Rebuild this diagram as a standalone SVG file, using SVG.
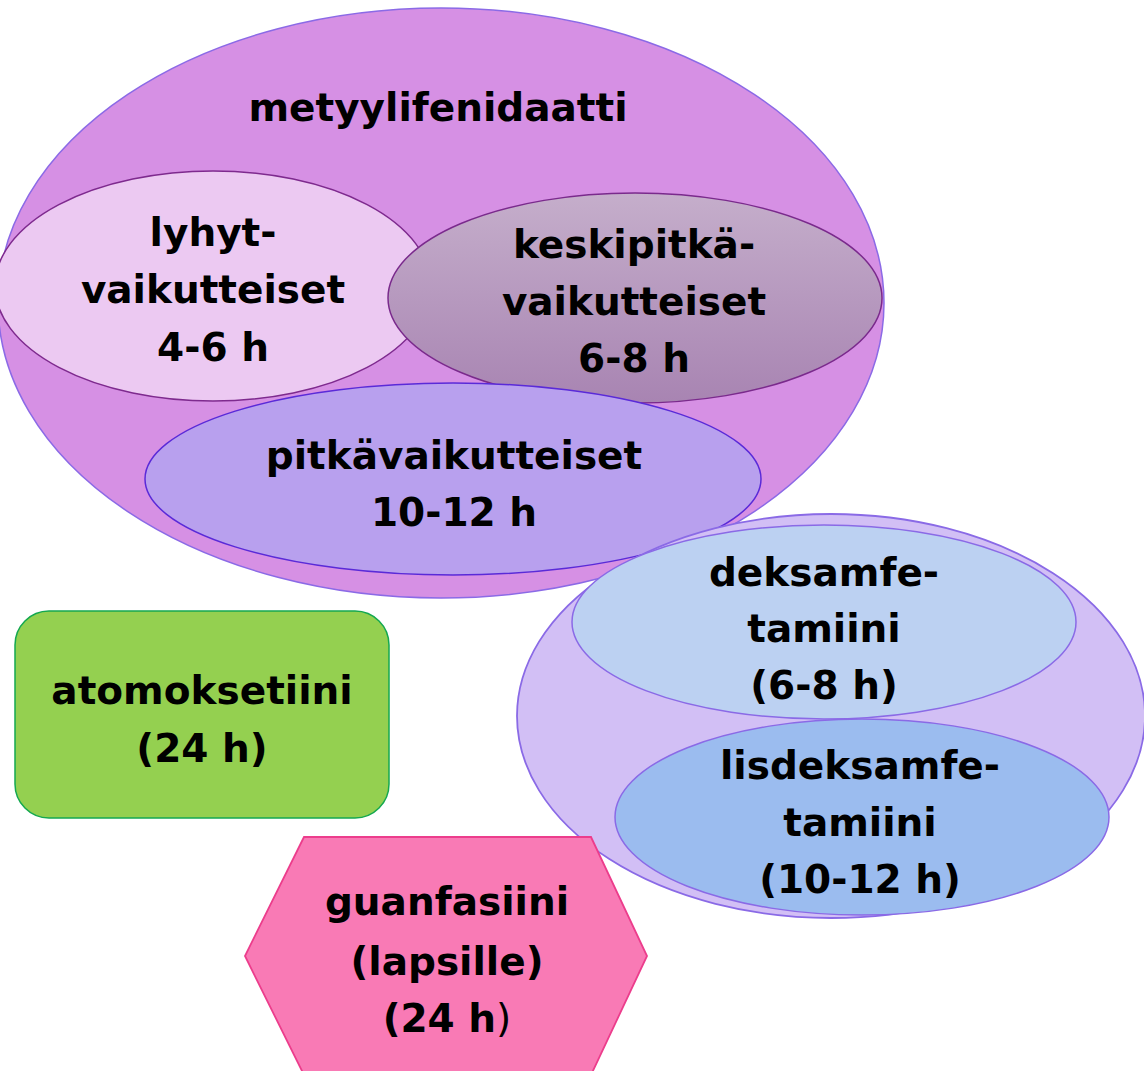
<svg xmlns="http://www.w3.org/2000/svg" width="1144" height="1071" viewBox="0 0 1144 1071">
<defs>
<linearGradient id="gKeski" x1="0" y1="0" x2="0" y2="1">
<stop offset="0" stop-color="#c5aecb"/>
<stop offset="1" stop-color="#a884b2"/>
</linearGradient>
<style>
text{font-family:"DejaVu Sans","Liberation Sans",sans-serif;font-weight:bold;font-size:39px;fill:#000;text-anchor:middle}
.thin{font-weight:normal}
</style>
</defs>
<rect width="1144" height="1071" fill="#fff"/>
<g id="connectors"/>
<g id="metyylifenidaatti">
<ellipse cx="441" cy="303" rx="443" ry="295" fill="#d690e4" stroke="#8b6ae6" stroke-width="1.5"/>
<text x="438" y="121">metyylifenidaatti</text>
</g>
<g id="lyhytvaikutteiset">
<ellipse cx="213" cy="286" rx="218" ry="115" fill="#ecc9f2" stroke="#7e2a8e" stroke-width="1.5"/>
<text x="213" y="246">lyhyt-</text>
<text x="213" y="303">vaikutteiset</text>
<text x="213" y="361">4-6 h</text>
</g>
<g id="keskipitkavaikutteiset">
<ellipse cx="635" cy="298" rx="247" ry="105" fill="url(#gKeski)" stroke="#7a2a8c" stroke-width="1.5"/>
<text x="634" y="258">keskipitkä-</text>
<text x="634" y="315">vaikutteiset</text>
<text x="634" y="372">6-8 h</text>
</g>
<g id="pitkavaikutteiset">
<ellipse cx="453" cy="479" rx="308" ry="96" fill="#b8a0ee" stroke="#5a2ad8" stroke-width="1.5"/>
<text x="454" y="469">pitkävaikutteiset</text>
<text x="454" y="526">10-12 h</text>
</g>
<g id="amfetamiinit">
<ellipse cx="831" cy="716" rx="314" ry="202" fill="#d2bff5" stroke="#8a6ae6" stroke-width="1.8"/>
</g>
<g id="deksamfetamiini">
<ellipse cx="824" cy="622" rx="252" ry="97" fill="#bcd1f2" stroke="#8a6ae6" stroke-width="1.5"/>
<text x="824" y="586">deksamfe-</text>
<text x="824" y="642">tamiini</text>
<text x="824" y="699">(6-8 h)</text>
</g>
<g id="lisdeksamfetamiini">
<ellipse cx="862" cy="817" rx="247" ry="98" fill="#9bbcef" stroke="#8a6ae6" stroke-width="1.5"/>
<text x="860" y="779">lisdeksamfe-</text>
<text x="860" y="836">tamiini</text>
<text x="860" y="893">(10-12 h)</text>
</g>
<g id="atomoksetiini">
<rect x="15" y="611" width="374" height="207" rx="34" ry="34" fill="#94d050" stroke="#14a850" stroke-width="1.5"/>
<text x="202" y="704">atomoksetiini</text>
<text x="202" y="762">(24 h)</text>
</g>
<g id="guanfasiini">
<polygon points="304,837 591,837 647,956 591,1075 304,1075 245,956" fill="#f97ab5" stroke="#ec3d8c" stroke-width="1.8"/>
<text x="447" y="915">guanfasiini</text>
<text x="447" y="975">(lapsille)</text>
<text x="447" y="1032">(24 h<tspan class="thin">)</tspan></text>
</g>
</svg>
